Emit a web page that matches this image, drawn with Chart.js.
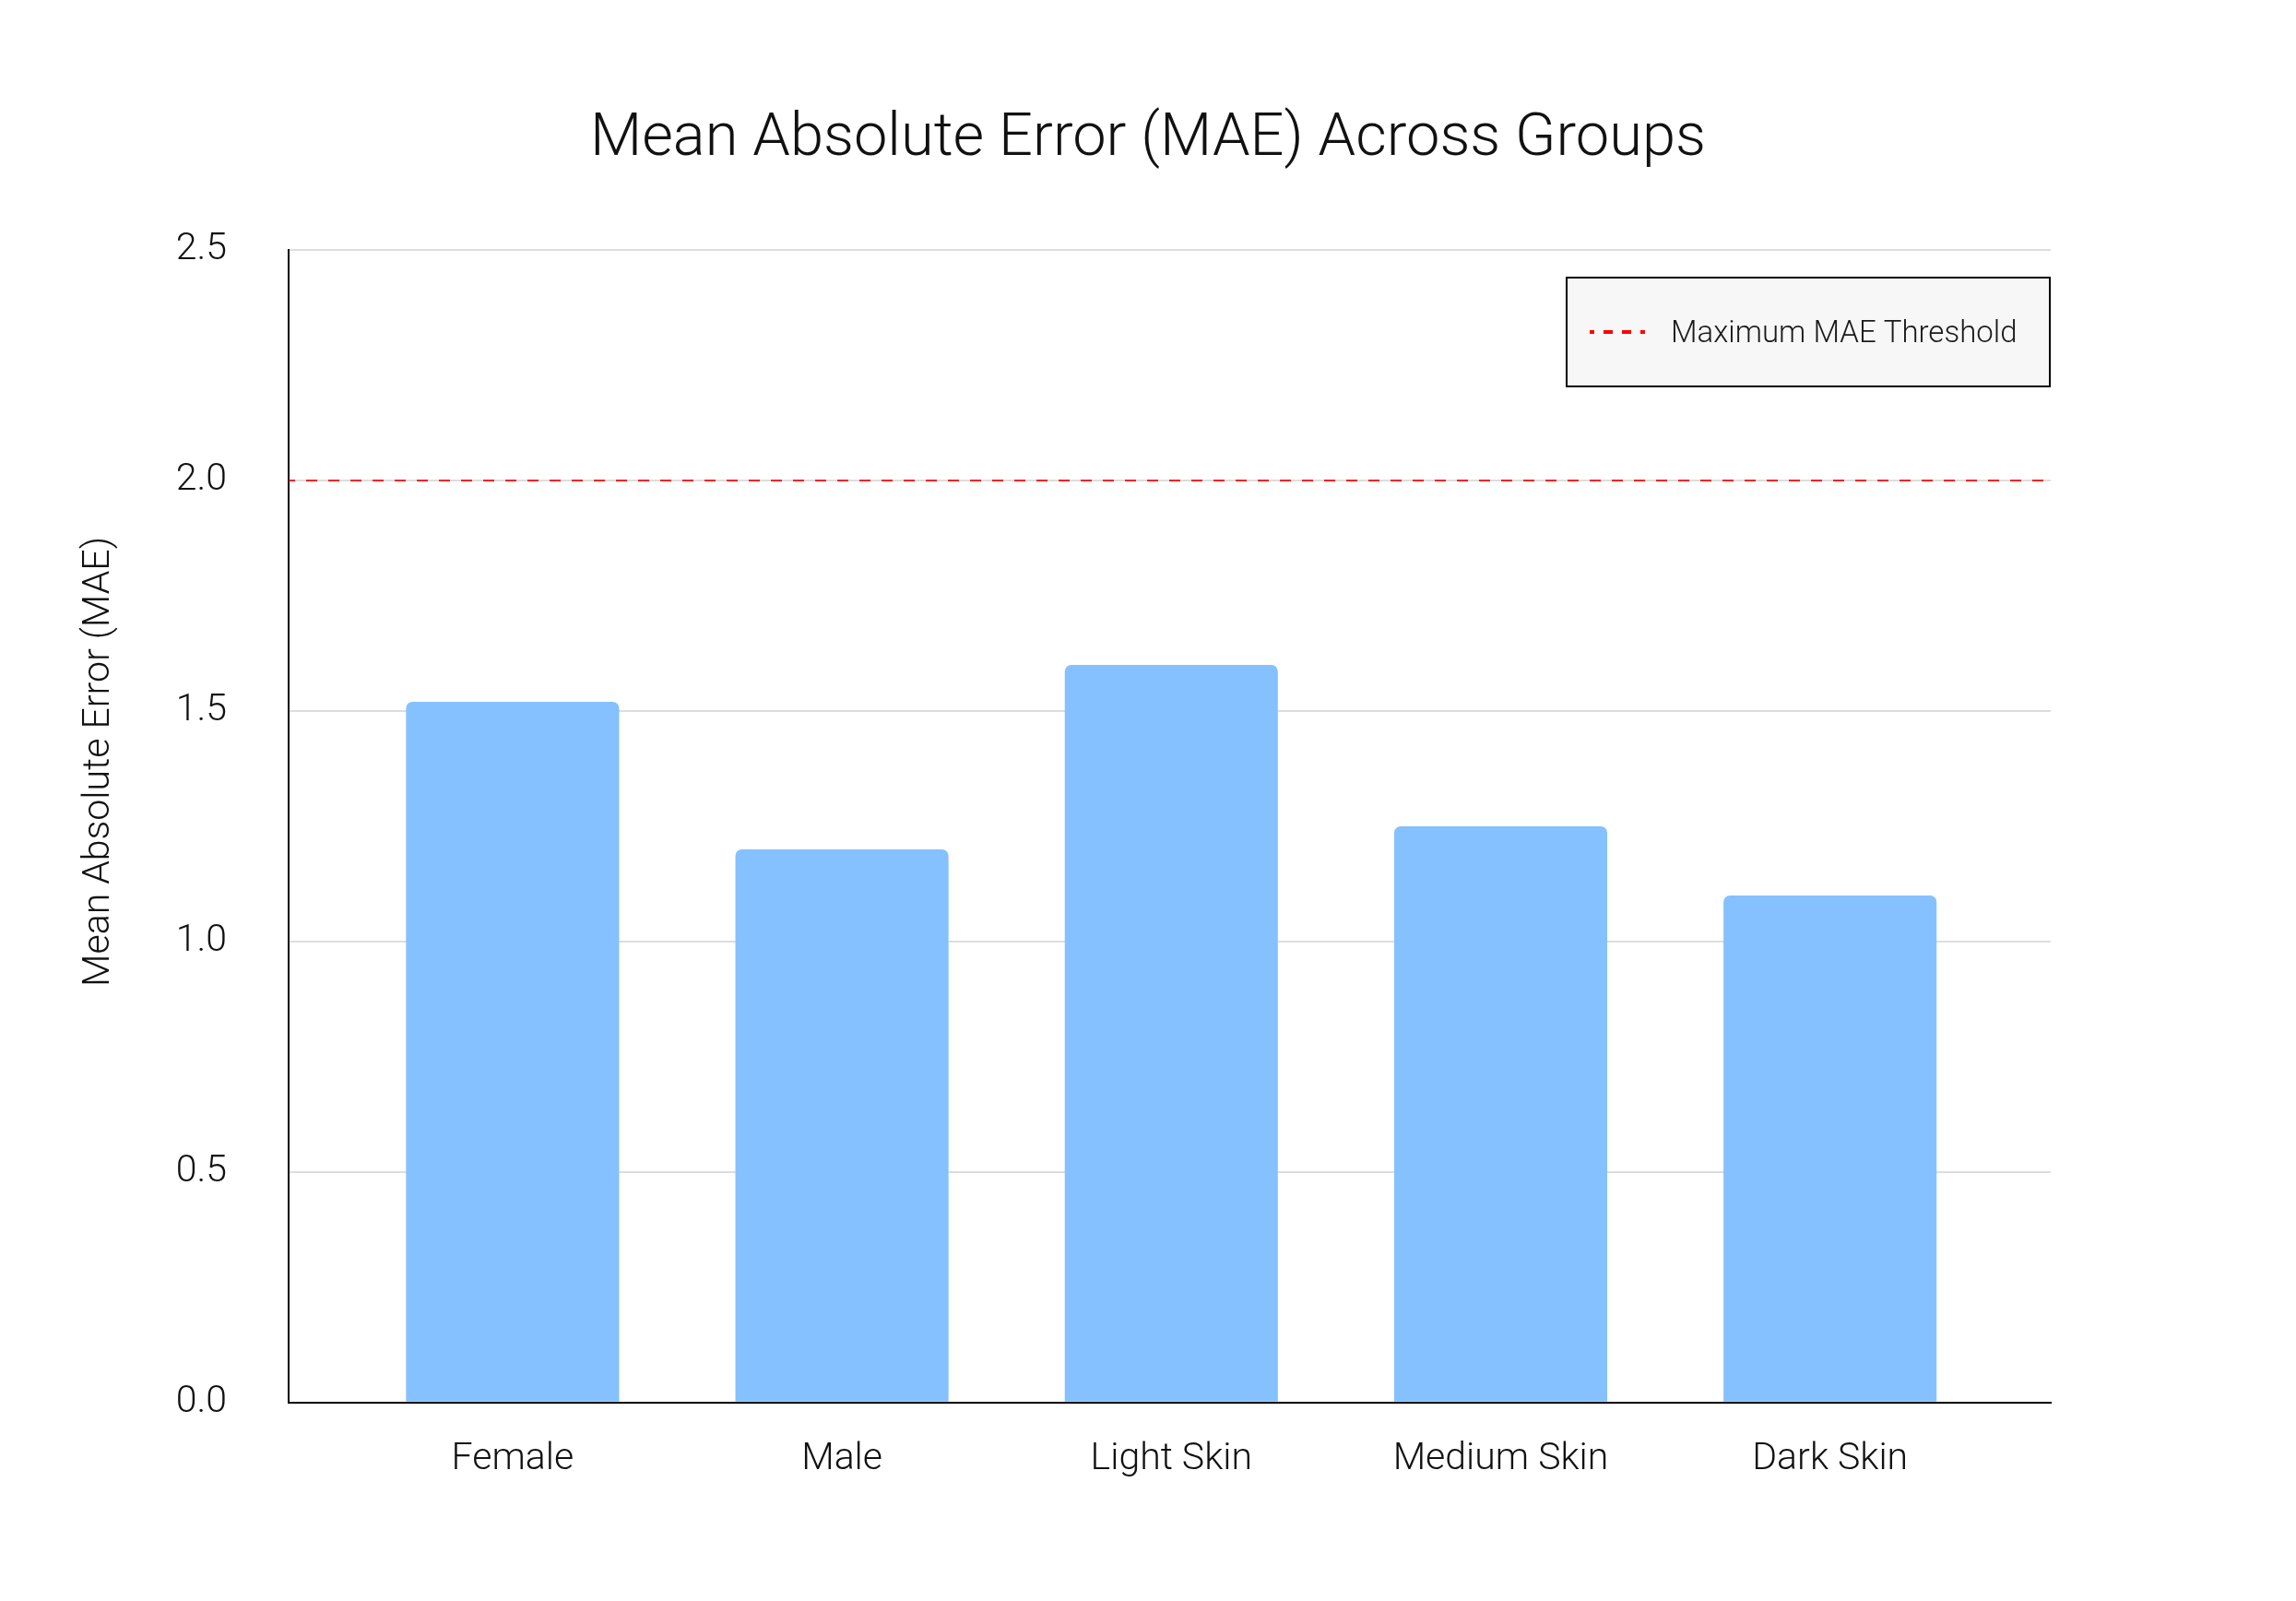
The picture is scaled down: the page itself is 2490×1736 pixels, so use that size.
<!DOCTYPE html>
<html>
<head>
<meta charset="utf-8">
<title>Mean Absolute Error (MAE) Across Groups</title>
<script src="https://cdn.jsdelivr.net/npm/chart.js@4.4.1/dist/chart.umd.min.js"></script>
<style>
  html, body { margin: 0; padding: 0; background: #ffffff; }
  #wrap { width: 2490px; height: 1736px; }
</style>
</head>
<body>
<div id="wrap"><canvas id="chart" width="2490" height="1736"></canvas></div>
<script>
// data
const groups = ["Female", "Male", "Light Skin", "Medium Skin", "Dark Skin"];
const maeValues = [1.52, 1.2, 1.6, 1.25, 1.1];
const maeThreshold = 2.0;
const thresholdLabel = "Maximum MAE Threshold";
const yTicks = [0.0, 0.5, 1.0, 1.5, 2.0, 2.5];

const FONT = "Roboto, Inter, sans-serif";
const TEXT = "#111111";

// threshold line across the whole plot, placed through the y scale
const thresholdLine = {
  id: "thresholdLine",
  afterDatasetsDraw(chart) {
    const { ctx, chartArea, scales } = chart;
    const y = scales.y.getPixelForValue(maeThreshold);
    ctx.save();
    ctx.strokeStyle = "rgba(255, 0, 0, 0.85)";
    ctx.lineWidth = 2;
    ctx.setLineDash([12, 12]);
    ctx.lineDashOffset = 5;
    ctx.beginPath();
    ctx.moveTo(chartArea.left, y);
    ctx.lineTo(chartArea.right, y);
    ctx.stroke();
    ctx.restore();
  },
};

// boxed legend in the upper right of the plot
const boxLegend = {
  id: "boxLegend",
  afterDraw(chart) {
    const { ctx, chartArea } = chart;
    const w = 524, h = 118;
    const x = chartArea.right - w - 1;
    const y = chartArea.top + 30;
    ctx.save();
    ctx.fillStyle = "#f7f7f7";
    ctx.fillRect(x, y, w, h);
    ctx.strokeStyle = "#000000";
    ctx.lineWidth = 2;
    ctx.strokeRect(x, y, w, h);

    const my = y + h / 2;
    ctx.strokeStyle = "#ff0000";
    ctx.lineWidth = 4;
    ctx.setLineDash([10, 10]);
    ctx.lineDashOffset = 5;
    ctx.beginPath();
    ctx.moveTo(x + 25, my);
    ctx.lineTo(x + 85, my);
    ctx.stroke();

    ctx.setLineDash([]);
    ctx.fillStyle = "#1a1a1a";
    ctx.font = "300 33px " + FONT;
    ctx.textBaseline = "middle";
    ctx.textAlign = "left";
    ctx.fillText(thresholdLabel, x + 113, my + 3);
    ctx.restore();
  },
};

// y axis title, set a bit above the plot centre as in the original
const yTitle = {
  id: "yTitle",
  afterDraw(chart) {
    const { ctx } = chart;
    ctx.save();
    ctx.translate(108, 826);
    ctx.rotate(-Math.PI / 2);
    ctx.fillStyle = TEXT;
    ctx.font = "300 41px " + FONT;
    ctx.textAlign = "center";
    ctx.textBaseline = "middle";
    ctx.fillText("Mean Absolute Error (MAE)", 0, 0);
    ctx.restore();
  },
};

window.addEventListener("load", function () {
  const ctx = document.getElementById("chart").getContext("2d");
  new Chart(ctx, {
    type: "bar",
    data: {
      datasets: [
        {
          label: "MAE",
          data: maeValues.map((v, i) => ({ x: i, y: v })),
          backgroundColor: "#85c1ff",
          borderWidth: 0,
          borderRadius: 7,
          borderSkipped: "start",
          barPercentage: 0.647,
          categoryPercentage: 1.0,
        },
      ],
    },
    options: {
      responsive: false,
      animation: false,
      layout: { padding: { top: 70, right: 0, bottom: 92, left: 0 } },
      plugins: {
        legend: { display: false },
        tooltip: { enabled: false },
        title: {
          display: true,
          text: "Mean Absolute Error (MAE) Across Groups",
          color: TEXT,
          font: { family: FONT, size: 65, weight: "300", lineHeight: 1.2 },
          padding: { top: 43, bottom: 80 },
        },
      },
      scales: {
        x: {
          type: "linear",
          min: -0.68,
          max: 4.67,
          offset: false,
          grid: { display: false, drawTicks: false },
          border: { color: "#000000", width: 2 },
          ticks: {
            stepSize: 1,
            includeBounds: false,
            autoSkip: false,
            maxRotation: 0,
            padding: 37,
            color: TEXT,
            font: { family: FONT, size: 41, weight: "300" },
            callback: (value) =>
              Number.isInteger(value) && groups[value] ? groups[value] : "",
          },
        },
        y: {
          min: 0,
          max: 2.5,
          afterBuildTicks: (scale) => {
            scale.ticks = yTicks.map((v) => ({ value: v }));
          },
          afterFit: (scale) => {
            scale.width = 313;
          },
          grid: { color: "#dddddd", lineWidth: 2, drawTicks: false },
          border: { color: "#000000", width: 2 },
          ticks: {
            padding: 67,
            color: TEXT,
            font: { family: FONT, size: 41, weight: "300" },
            callback: (value) => Number(value).toFixed(1),
          },
        },
        // empty axis that only reserves the right margin
        yPad: {
          position: "right",
          display: true,
          grid: { display: false, drawTicks: false },
          border: { display: false },
          ticks: { display: false },
          afterFit: (scale) => {
            scale.width = 266;
          },
        },
      },
    },
    plugins: [thresholdLine, boxLegend, yTitle],
  });
});
</script>
</body>
</html>
